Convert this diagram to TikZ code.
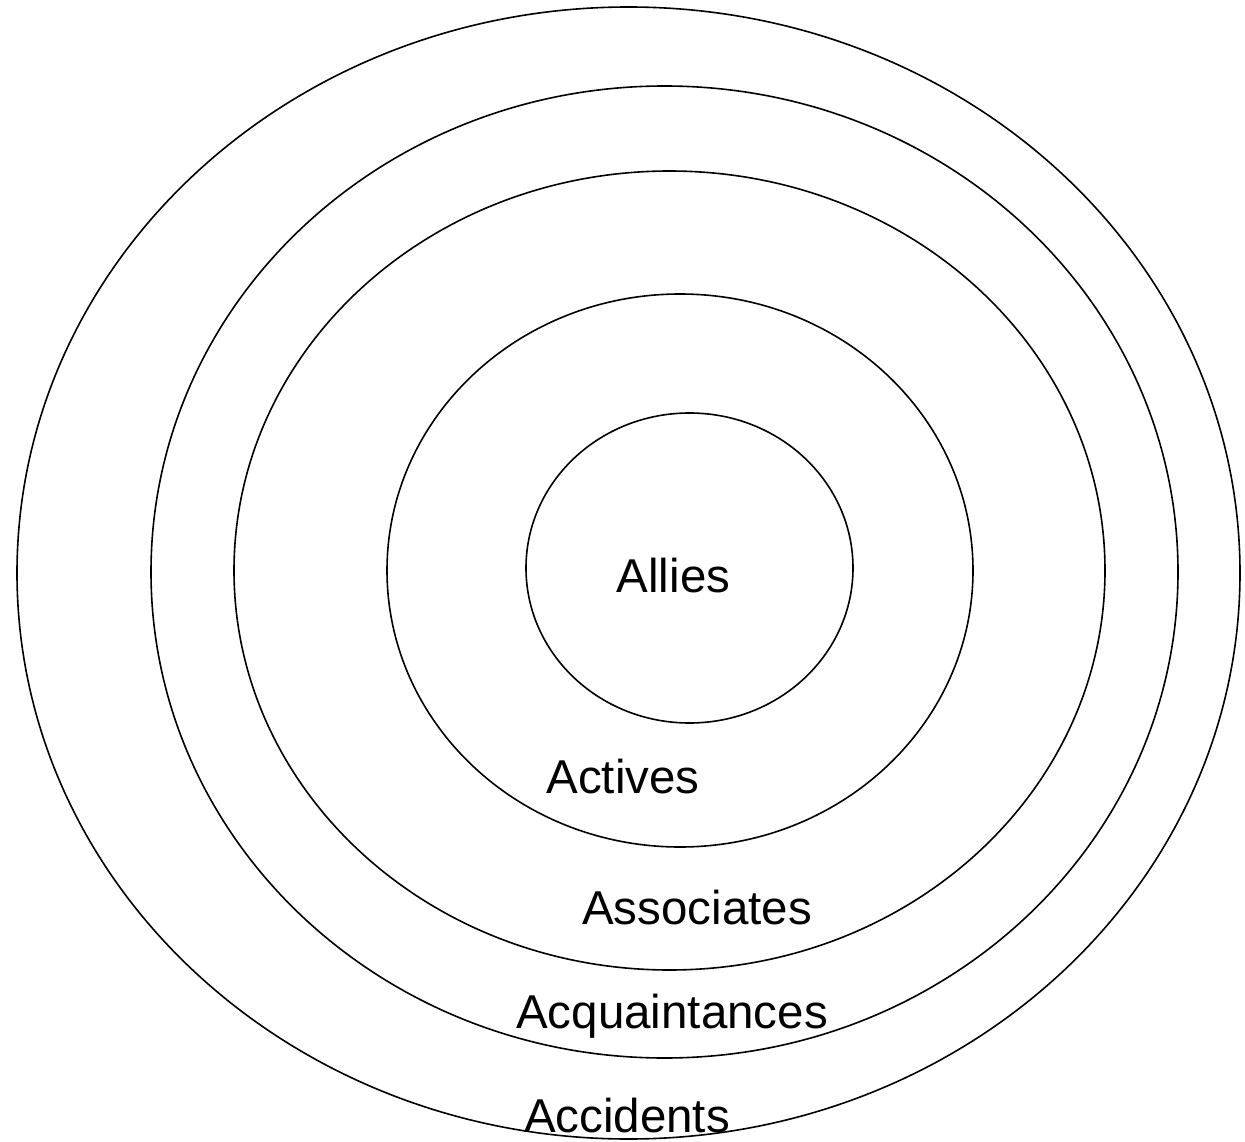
\documentclass[tikz,border=0pt]{standalone}
\usepackage{fontspec}
\setmainfont{Liberation Sans}
\usepackage{tikz}

\begin{document}
\begin{tikzpicture}[
  x=1pt, y=-1pt,
  ring/.style={draw, line width=1.6pt},
  tag/.style={anchor=base, inner sep=0pt, font=\fontsize{47.5}{57}\selectfont}
]
\useasboundingbox (0,0) rectangle (1245,1142);

\draw[ring] (628.5,573) ellipse [x radius=611.5, y radius=566];
\draw[ring] (664.5,572) ellipse [x radius=513.5, y radius=486];
\draw[ring] (669.5,570.5) ellipse [x radius=435.5, y radius=399.5];
\draw[ring] (680,570.5) ellipse [x radius=293, y radius=276.5];
\draw[ring] (689.5,568) ellipse [x radius=163.5, y radius=155];

\node[tag] (allies) at (673.5,592) {Allies};
\node[tag] (actives) at (623,793) {Actives};
\node[tag] (associates) at (697,924) {Associates};
\node[tag] (acquaint) at (672,1028) {Acquaintances};
\node[tag] (accidents) at (627,1132) {Accidents};
\end{tikzpicture}
\end{document}
